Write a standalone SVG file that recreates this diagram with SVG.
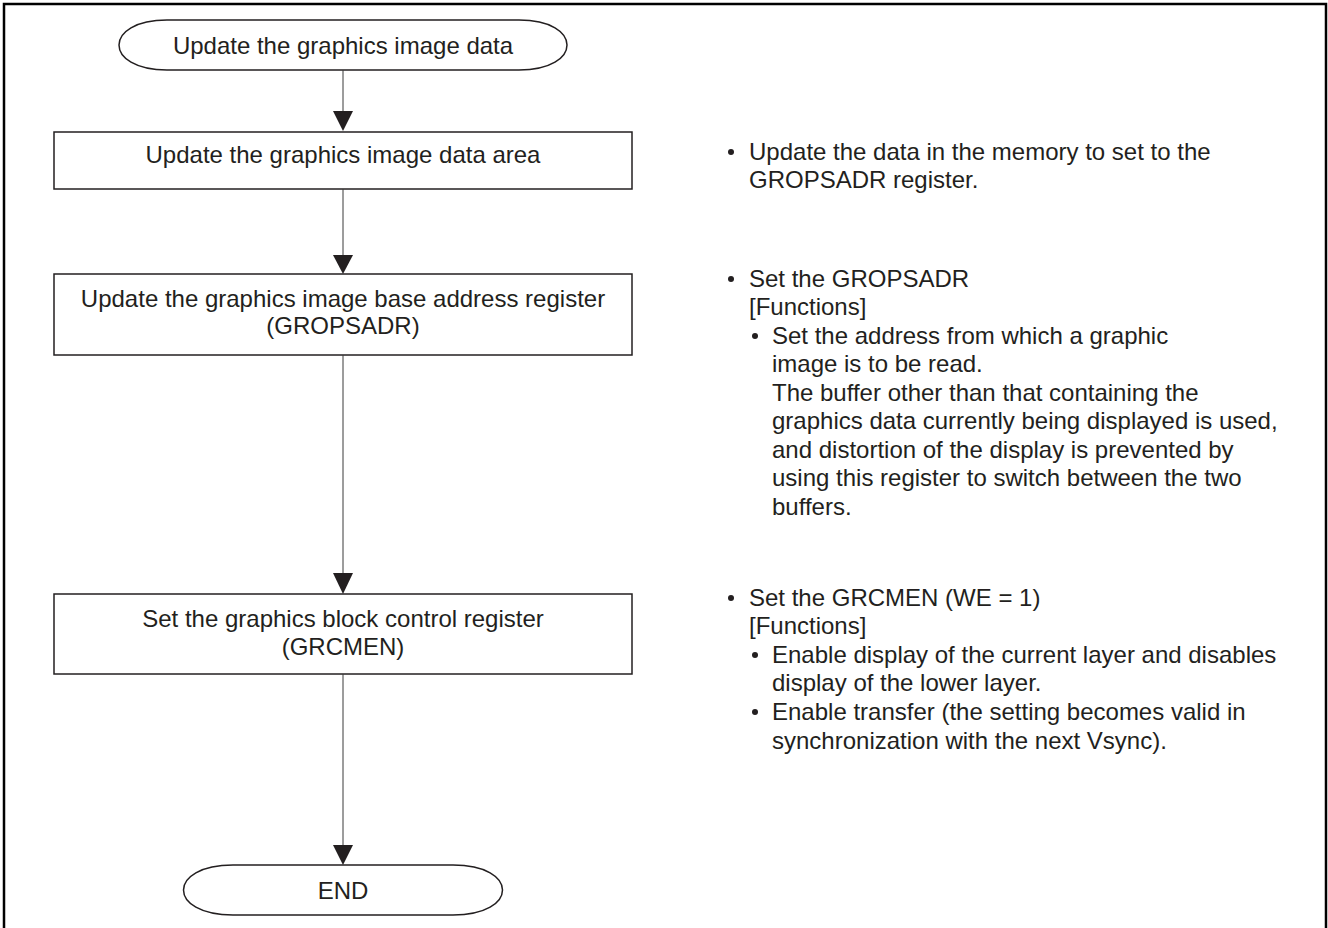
<svg xmlns="http://www.w3.org/2000/svg" width="1328" height="928" viewBox="0 0 1328 928">
  <defs>
    <style>
      .frame { fill: none; stroke: #000; stroke-width: 2.5; }
      .shape { fill: #fff; stroke: #231f20; stroke-width: 1.5; }
      .flow { stroke: #3a3a3a; stroke-width: 1; fill: none; }
      .head { fill: #231f20; }
      .dot { fill: #231f20; }
      text { font-family: "Liberation Sans", Arial, sans-serif; font-size: 24px; fill: #231f20; }
      .c { text-anchor: middle; }
    </style>
  </defs>

  <rect width="1328" height="928" fill="#fff"/>
  <!-- page frame, open at the bottom edge of the sheet -->
  <path class="frame" d="M4,940 V4 H1326 V940"/>

  <!-- start terminal -->
  <g id="start">
    <path class="shape" d="M167,20 H519 C583,20 583,70 519,70 H167 C103,70 103,20 167,20 Z"/>
    <text class="c" x="343" y="54">Update the graphics image data</text>
  </g>

  <!-- process steps -->
  <g id="step-area">
    <rect class="shape" x="54" y="132" width="578" height="57"/>
    <text class="c" x="343" y="163">Update the graphics image data area</text>
  </g>

  <g id="step-gropsadr">
    <rect class="shape" x="54" y="274" width="578" height="81"/>
    <text class="c" x="343" y="307">Update the graphics image base address register</text>
    <text class="c" x="343" y="334">(GROPSADR)</text>
  </g>

  <g id="step-grcmen">
    <rect class="shape" x="54" y="594" width="578" height="80"/>
    <text class="c" x="343" y="627">Set the graphics block control register</text>
    <text class="c" x="343" y="655">(GRCMEN)</text>
  </g>

  <!-- end terminal -->
  <g id="end">
    <path class="shape" d="M233,865 H453 C519,865 519,915 453,915 H233 C167,915 167,865 233,865 Z"/>
    <text class="c" x="343" y="899">END</text>
  </g>

  <!-- connectors -->
  <g id="connectors">
    <line class="flow" x1="343" y1="70" x2="343" y2="113"/>
    <polygon class="head" points="333,111 353,111 343,131"/>
    <line class="flow" x1="343" y1="189" x2="343" y2="257"/>
    <polygon class="head" points="333,255 353,255 343,274"/>
    <line class="flow" x1="343" y1="355" x2="343" y2="575"/>
    <polygon class="head" points="333,573 353,573 343,594"/>
    <line class="flow" x1="343" y1="674" x2="343" y2="847"/>
    <polygon class="head" points="333,845 353,845 343,865"/>
  </g>

  <!-- notes beside each step -->
  <g id="note-area">
    <circle class="dot" cx="731" cy="152" r="3"/>
    <text x="749" y="160">Update the data in the memory to set to the</text>
    <text x="749" y="188">GROPSADR register.</text>
  </g>

  <g id="note-gropsadr">
    <circle class="dot" cx="731" cy="279" r="3"/>
    <text x="749" y="287">Set the GROPSADR</text>
    <text x="749" y="315">[Functions]</text>
    <circle class="dot" cx="755" cy="336" r="3"/>
    <text x="772" y="344">Set the address from which a graphic</text>
    <text x="772" y="372">image is to be read.</text>
    <text x="772" y="401">The buffer other than that containing the</text>
    <text x="772" y="429">graphics data currently being displayed is used,</text>
    <text x="772" y="458">and distortion of the display is prevented by</text>
    <text x="772" y="486">using this register to switch between the two</text>
    <text x="772" y="515">buffers.</text>
  </g>

  <g id="note-grcmen">
    <circle class="dot" cx="731" cy="598" r="3"/>
    <text x="749" y="606">Set the GRCMEN (WE = 1)</text>
    <text x="749" y="634">[Functions]</text>
    <circle class="dot" cx="755" cy="655" r="3"/>
    <text x="772" y="663">Enable display of the current layer and disables</text>
    <text x="772" y="691">display of the lower layer.</text>
    <circle class="dot" cx="755" cy="712" r="3"/>
    <text x="772" y="720">Enable transfer (the setting becomes valid in</text>
    <text x="772" y="749">synchronization with the next Vsync).</text>
  </g>
</svg>
